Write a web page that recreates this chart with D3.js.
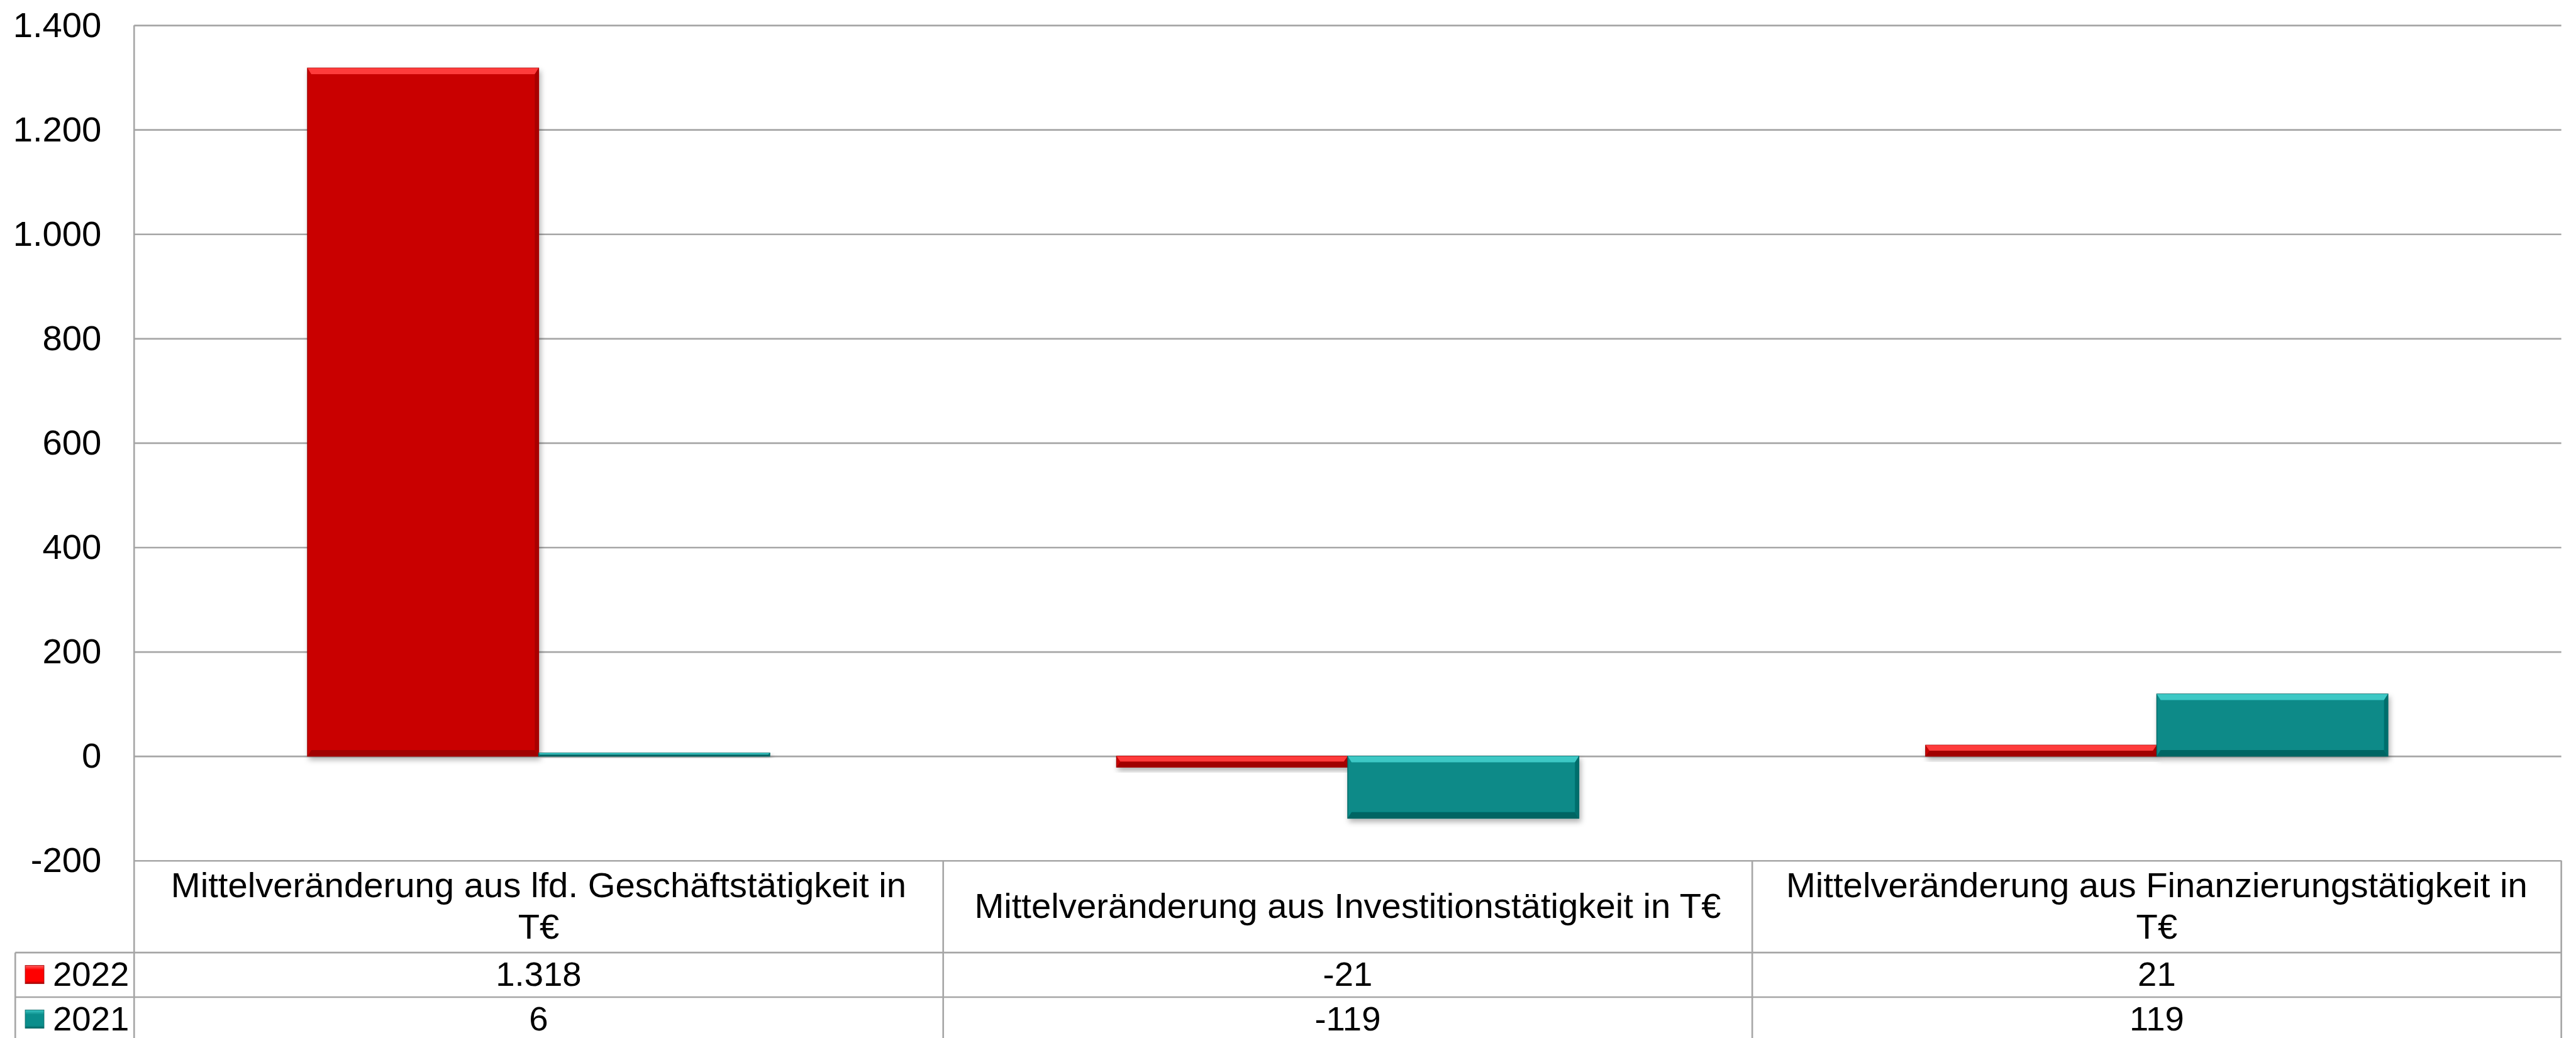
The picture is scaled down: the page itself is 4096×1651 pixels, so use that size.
<!DOCTYPE html>
<html>
<head>
<meta charset="utf-8">
<script src="https://cdn.jsdelivr.net/npm/d3@7"></script>
<style>
  html, body { margin: 0; padding: 0; background: #fff; overflow: hidden; }
  text { font-family: "Liberation Sans", Arial, sans-serif; fill: #000; }
</style>
</head>
<body>
<div id="chart"></div>
<script>
const categories = [
    "Mittelveränderung aus lfd. Geschäftstätigkeit in T€",
    "Mittelveränderung aus Investitionstätigkeit in T€",
    "Mittelveränderung aus Finanzierungstätigkeit in T€"
];
const seriesNames = ["2022", "2021"];
const values2022 = [1318, -21, 21];
const values2021 = [6, -119, 119];
const yTicks = [-200, 0, 200, 400, 600, 800, 1000, 1200, 1400];

const drawChart = (containerId) => {
    // work in reference pixels, viewBox scales everything to the window
    const W = 4658, H = 1878;
    const plotLeft = 242, plotRight = 4632;
    const yTop = 45.7, yBottom = 1557;
    const headerBottom = 1723.5, rowH = 80.5;
    const legendLeft = 27;
    const FONT = 62, HEAD_FONT = 64, AXIS_FONT = 64;
    const DY = "0.32em";
    const GRID = "#a6a6a6";

    const de = d3.formatLocale({ decimal: ",", thousands: ".", grouping: [3], currency: ["", "€"], minus: "-" });
    const fmt = de.format(",d");

    const svg = d3.select("#" + containerId)
        .append("svg")
        .attr("width", 4096)
        .attr("height", 1651)
        .attr("viewBox", `0 0 ${W} ${H}`);

    const defs = svg.append("defs");
    defs.append("filter")
        .attr("id", "shadow")
        .attr("x", "-10%").attr("y", "-10%")
        .attr("width", "130%").attr("height", "160%")
        .append("feDropShadow")
        .attr("dx", 3).attr("dy", 6)
        .attr("stdDeviation", 5)
        .attr("flood-color", "#000")
        .attr("flood-opacity", 0.3);

    const palette = {
        "2022": { main: "#c90606", light: "#ff3a3a", dark: "#a00303", side: "#a80404", legendTop: "#ff6060", legend: "#ff0000" },
        "2021": { main: "#078a88", light: "#3cc8c5", dark: "#056563", side: "#066e6c", legendTop: "#3cc8c5", legend: "#0a8e8c" }
    };

    const y = d3.scaleLinear().domain([-200, 1400]).range([yBottom, yTop]);

    const x0 = d3.scaleBand()
        .domain(categories)
        .range([plotLeft, plotRight])
        .paddingInner(1.5 / 3.5)
        .paddingOuter(0.75 / 3.5);

    const x1 = d3.scaleBand()
        .domain(seriesNames)
        .range([0, x0.bandwidth()]);

    const colW = (plotRight - plotLeft) / categories.length;
    const colLeft = i => plotLeft + i * colW;

    // gridlines
    svg.append("g")
        .attr("transform", `translate(${plotLeft},0)`)
        .call(d3.axisLeft(y).tickValues(yTicks).tickSize(-(plotRight - plotLeft)).tickFormat(""))
        .call(g => g.select(".domain").remove())
        .call(g => g.selectAll("line").attr("stroke", GRID).attr("stroke-width", 3));

    // y axis labels
    svg.append("g")
        .attr("transform", `translate(${plotLeft},0)`)
        .call(d3.axisLeft(y).tickValues(yTicks).tickSize(0).tickPadding(59).tickFormat(fmt))
        .call(g => g.select(".domain").remove())
        .call(g => g.selectAll("text")
            .attr("font-size", AXIS_FONT)
            .attr("dy", DY)
            .attr("font-family", "Liberation Sans, Arial, sans-serif")
            .attr("fill", "#000"));

    // bars
    const rows = categories.map((c, i) => ({ cat: c, "2022": values2022[i], "2021": values2021[i] }));
    const bars = [];
    rows.forEach(r => seriesNames.forEach(s => bars.push({ cat: r.cat, s, v: r[s] })));

    const barG = svg.append("g");
    bars.forEach(d => {
        const c = palette[d.s];
        const bx = x0(d.cat) + x1(d.s);
        const bw = x1.bandwidth();
        const by = y(Math.max(0, d.v));
        const bh = Math.abs(y(d.v) - y(0));
        const g = barG.append("g").attr("filter", "url(#shadow)");
        g.append("rect")
            .attr("x", bx).attr("y", by)
            .attr("width", bw).attr("height", bh)
            .attr("fill", c.main)
            .attr("stroke", c.dark).attr("stroke-width", 1.5);
        const bt = Math.min(11, bh / 2), bs = Math.min(7, bh / 2);
        const poly = pts => pts.map(p => p.join(",")).join(" ");
        // top bevel
        g.append("polygon")
            .attr("points", poly([[bx, by], [bx + bw, by], [bx + bw - bs, by + bt], [bx + bs, by + bt]]))
            .attr("fill", c.light);
        // bottom bevel
        g.append("polygon")
            .attr("points", poly([[bx, by + bh], [bx + bw, by + bh], [bx + bw - bs, by + bh - bt], [bx + bs, by + bh - bt]]))
            .attr("fill", c.dark);
        // right bevel
        g.append("polygon")
            .attr("points", poly([[bx + bw, by], [bx + bw, by + bh], [bx + bw - bs, by + bh - bt], [bx + bw - bs, by + bt]]))
            .attr("fill", c.side);
    });

    // axis line
    svg.append("line")
        .attr("x1", plotLeft).attr("x2", plotLeft)
        .attr("y1", yTop).attr("y2", headerBottom + 2 * rowH)
        .attr("stroke", GRID).attr("stroke-width", 3);

    // data table
    const tbl = svg.append("g").attr("stroke", GRID).attr("stroke-width", 3);
    [headerBottom, headerBottom + rowH, headerBottom + 2 * rowH].forEach(yy => {
        tbl.append("line").attr("x1", legendLeft).attr("x2", plotRight).attr("y1", yy).attr("y2", yy);
    });
    tbl.append("line").attr("x1", legendLeft).attr("x2", legendLeft)
        .attr("y1", headerBottom).attr("y2", headerBottom + 2 * rowH);
    d3.range(1, categories.length + 1).forEach(i => {
        tbl.append("line").attr("x1", colLeft(i)).attr("x2", colLeft(i))
            .attr("y1", yBottom).attr("y2", headerBottom + 2 * rowH);
    });

    // header text with wrapping
    const maxW = colW - 80;
    categories.forEach((cat, i) => {
        const t = svg.append("text")
            .attr("text-anchor", "middle")
            .attr("font-size", HEAD_FONT);
        const words = cat.split(" ");
        const lines = [];
        let line = [];
        const probe = t.append("tspan");
        words.forEach(w => {
            const test = line.concat(w).join(" ");
            probe.text(test);
            if (probe.node().getComputedTextLength() > maxW && line.length) {
                lines.push(line.join(" "));
                line = [w];
            } else {
                line.push(w);
            }
        });
        lines.push(line.join(" "));
        probe.remove();
        const lh = 74;
        const cy = (yBottom + headerBottom) / 2;
        lines.forEach((l, k) => {
            t.append("tspan")
                .attr("x", colLeft(i) + colW / 2)
                .attr("y", cy + (k - (lines.length - 1) / 2) * lh)
                .attr("dy", DY)
                .text(l);
        });
    });

    // value rows + legend keys
    const series = [values2022, values2021];
    seriesNames.forEach((s, r) => {
        const top = headerBottom + r * rowH;
        const cy = top + rowH / 2;
        const c = palette[s];
        const grad = defs.append("linearGradient")
            .attr("id", "lg" + s).attr("x1", 0).attr("y1", 0).attr("x2", 0).attr("y2", 1);
        grad.append("stop").attr("offset", 0).attr("stop-color", c.legendTop);
        grad.append("stop").attr("offset", 0.25).attr("stop-color", c.legend);
        grad.append("stop").attr("offset", 0.85).attr("stop-color", c.legend);
        grad.append("stop").attr("offset", 1).attr("stop-color", c.dark);
        svg.append("rect")
            .attr("x", 45).attr("y", cy - 17)
            .attr("width", 34).attr("height", 33)
            .attr("fill", `url(#lg${s})`)
            .attr("stroke", c.dark).attr("stroke-width", 1);
        svg.append("text")
            .attr("x", 95).attr("y", cy).attr("dy", DY)
            .attr("font-size", FONT)
            .text(s);
        series[r].forEach((v, i) => {
            svg.append("text")
                .attr("x", colLeft(i) + colW / 2).attr("y", cy).attr("dy", DY)
                .attr("text-anchor", "middle")
                .attr("font-size", FONT)
                .text(fmt(v));
        });
    });
};

drawChart("chart");
</script>
</body>
</html>
